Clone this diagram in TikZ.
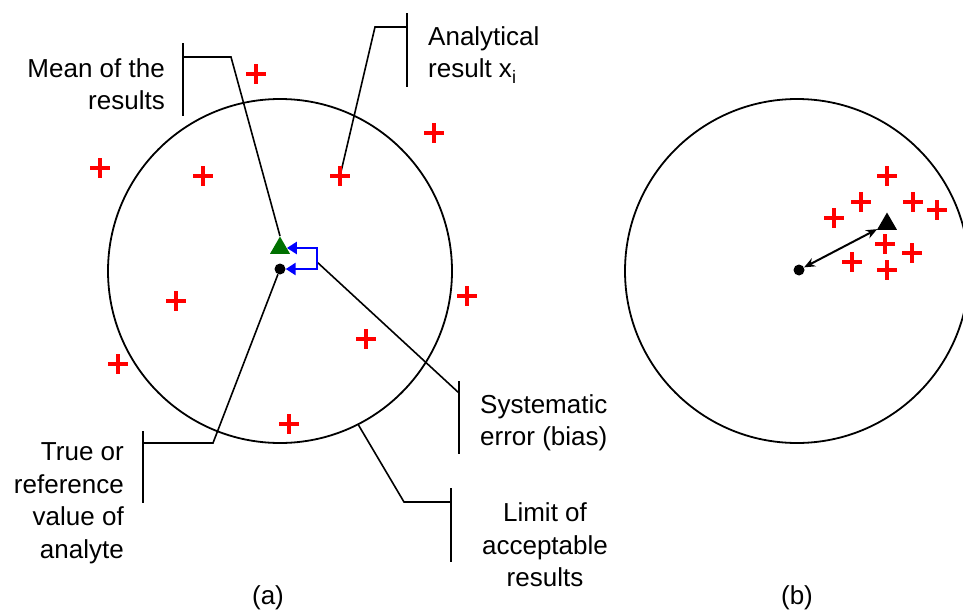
\documentclass[tikz,border=0pt]{standalone}
\usepackage{fontspec}
\setmainfont{Liberation Sans}
\usetikzlibrary{arrows.meta,shapes.geometric}

\definecolor{meangreen}{RGB}{0,112,0}

\tikzset{
  lbl/.style={font=\fontsize{26}{32.5}\selectfont, inner sep=0pt},
  leader/.style={line width=1.6pt},
  limit/.style={draw, circle, line width=1.8pt, minimum size=344pt, inner sep=0pt},
  meanmark/.style={regular polygon, regular polygon sides=3, minimum size=23pt, inner sep=0pt},
  truemark/.style={circle, fill=black, minimum size=11pt, inner sep=0pt},
  bracket/.style={blue, line width=2.6pt, {Triangle[length=10pt,width=12pt]}-{Triangle[length=10pt,width=12pt]}},
  plus/.pic={\draw[red, line width=3.8pt] (-10,0) -- (10,0) (0,-10) -- (0,10);}
}

\begin{document}
\begin{tikzpicture}[x=1pt, y=-1pt]
  \useasboundingbox (0,0) rectangle (963,613);

  % (a) results scattered widely
  \node[limit] (limA) at (280,271) {};
  \node[meanmark, fill=meangreen] (mean) at (280,248) {};
  \node[truemark] (truev) at (280,269) {};
  \coordinate (xi) at (340,176);
  \coordinate (biasR) at (317,262);

  % callout lines
  \draw[leader] (183,43) -- (183,116);
  \draw[leader] (183,57) -- (231,57) -- (mean.north);
  \draw[leader] (407,13) -- (407,87);
  \draw[leader] (407,27) -- (375,27) -- (xi);
  \draw[leader] (143,431) -- (143,503);
  \draw[leader] (143,443) -- (213,443) -- (truev);
  \draw[leader] (459,381) -- (459,454);
  \draw[leader] (biasR) -- (459,393);
  \draw[leader] (451,488) -- (451,562);
  \draw[leader] (451,502) -- (404,502) -- (limA.-63);

  \foreach \p in {(256,74),(100,168),(203,176),(340,176),(434,133),
                  (467,296),(366,339),(176,301),(118,364),(289,424)}
    \pic at \p {plus};

  \draw[bracket] (mean.east) -- (mean.east -| biasR) -- (truev.east -| biasR) -- (truev.east);

  \node[lbl, anchor=east, align=right] (meanlbl) at (165,84) {Mean of the\\results};
  \node[lbl, anchor=west, align=left] (xilbl) at (428,55) {Analytical\\result x\raisebox{-6pt}{\fontsize{18}{18}\selectfont i}};
  \node[lbl, anchor=west, align=left] (biaslbl) at (480,423) {Systematic\\error (bias)};
  \node[lbl, anchor=east, align=right] (truelbl) at (124,503) {True or\\reference\\value of\\analyte};
  \node[lbl, align=center] (limlbl) at (545,545) {Limit of\\acceptable\\results};
  \node[lbl] (capA) at (268,598) {(a)};

  % (b) results close together but biased
  \node[limit] (limB) at (797,271) {};
  \foreach \p in {(887,176),(861,202),(913,202),(937,210),(834,218),
                  (885,244),(912,253),(852,262),(887,270)}
    \pic at \p {plus};
  \node[meanmark, fill=black] (meanB) at (887,224) {};
  \node[truemark] (truevB) at (799,270) {};
  \draw[line width=2pt, {Stealth[length=11pt,width=9pt]}-{Stealth[length=11pt,width=9pt]}] (truevB) -- (meanB);
  \node[lbl] (capB) at (797,598) {(b)};
\end{tikzpicture}
\end{document}
